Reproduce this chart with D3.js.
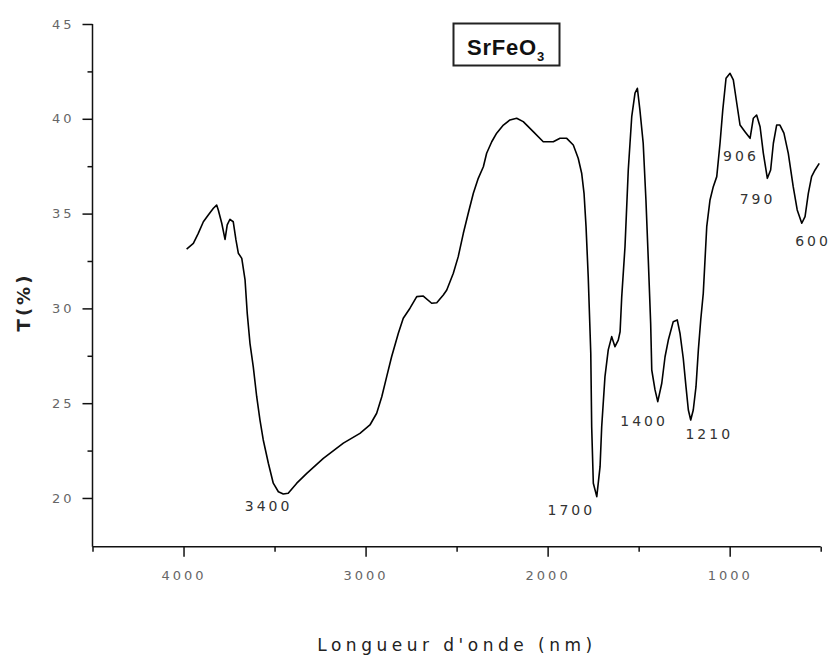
<!DOCTYPE html>
<html>
<head>
<meta charset="utf-8">
<script src="https://cdn.jsdelivr.net/npm/d3@7"></script>
<style>
  html, body { margin: 0; padding: 0; background: #fff; }
  svg { display: block; }
</style>
</head>
<body>
<svg id="chart" width="832" height="659"></svg>
<script>
// ---- Data (wavenumber cm-1, transmittance %) ----
const wavenumber = [3983,3946,3919,3891,3864,3836,3818,3809,3790,3772,3760,3745,3727,3712,3699,3680,3662,3650,3635,3617,3598,3580,3562,3534,3507,3479,3452,3425,3378,3323,3232,3122,3031,2976,2939,2911,2884,2857,2820,2793,2756,2719,2683,2637,2609,2573,2554,2518,2491,2463,2436,2408,2381,2353,2335,2307,2280,2243,2207,2170,2134,2079,2024,1969,1932,1895,1859,1832,1813,1800,1789,1777,1763,1758,1749,1730,1712,1703,1685,1667,1648,1630,1612,1602,1593,1575,1557,1538,1520,1507,1493,1475,1460,1447,1434,1428,1410,1395,1373,1355,1337,1310,1288,1273,1255,1240,1227,1214,1200,1185,1172,1159,1145,1126,1108,1090,1071,1053,1038,1020,998,980,961,943,916,888,870,852,833,815,793,775,760,742,724,702,678,651,629,604,586,568,550,531,508];
const transmittance = [33.13,33.43,33.96,34.57,34.93,35.28,35.45,35.19,34.49,33.64,34.40,34.70,34.57,33.61,32.91,32.64,31.50,29.74,28.16,26.93,25.34,24.11,23.06,21.83,20.78,20.33,20.21,20.25,20.78,21.30,22.09,22.89,23.41,23.85,24.47,25.34,26.40,27.45,28.69,29.48,30.01,30.62,30.65,30.27,30.30,30.71,30.97,31.85,32.73,33.96,35.02,36.07,36.86,37.47,38.18,38.79,39.24,39.67,39.94,40.03,39.85,39.32,38.79,38.79,38.97,38.97,38.62,37.92,37.13,36.07,34.31,31.67,27.63,23.76,20.78,20.07,21.65,23.76,26.40,27.81,28.51,27.98,28.33,28.77,30.60,33.25,37.30,40.11,41.35,41.61,40.46,38.71,35.72,32.55,29.21,26.75,25.70,25.08,26.05,27.45,28.33,29.30,29.39,28.69,27.37,25.87,24.64,24.11,24.64,25.87,27.81,29.39,30.80,34.31,35.72,36.42,36.95,38.71,40.46,42.14,42.40,42.05,40.82,39.67,39.32,38.97,40.03,40.20,39.58,38.18,36.86,37.30,38.71,39.67,39.67,39.24,38.18,36.42,35.19,34.49,34.84,36.07,36.95,37.30,37.65];

const xMajorTicks = [4000, 3000, 2000, 1000];
const xMinorTicks = [4500, 3500, 2500, 1500, 500];
const yMajorTicks = [20, 25, 30, 35, 40, 45];
const yMinorTicks = [22.5, 27.5, 32.5, 37.5, 42.5];

const peakLabels = ["3400", "1700", "1400", "1210", "906", "790", "600"];
const peakLabelW = [3533, 1870, 1470, 1112, 938, 847, 542];
const peakLabelT = [19.5, 19.3, 24.0, 23.3, 38.0, 35.7, 33.5];

const titleText = "SrFeO";
const titleSub = "3";
const xTitle = "Longueur d'onde (nm)";
const yTitle = "T(%)";

// ---- Scales ----
const svg = d3.select("#chart");
const x = d3.scaleLinear().domain([4500, 500]).range([92.5, 820.7]);
const y = d3.scaleLinear().domain([17.43, 45]).range([546.7, 24]);

const axisColor = "#111";
const tickLabelColor = "#666";

// ---- Y axis ----
const gy = svg.append("g").attr("transform", `translate(${x(4500)},0)`)
  .call(d3.axisLeft(y).tickValues(yMajorTicks).tickSize(10).tickPadding(8).tickFormat(d3.format("d")));
gy.select(".domain").remove();
gy.selectAll(".tick line").attr("stroke", axisColor).attr("stroke-width", 1.5);
gy.selectAll(".tick text").attr("fill", tickLabelColor).attr("font-family", "DejaVu Sans, sans-serif").attr("font-size", 13).attr("letter-spacing", 3);
const gyMinor = svg.append("g").attr("transform", `translate(${x(4500)},0)`)
  .call(d3.axisLeft(y).tickValues(yMinorTicks).tickSize(5).tickFormat(""));
gyMinor.select(".domain").remove();
gyMinor.selectAll(".tick line").attr("stroke", axisColor).attr("stroke-width", 1.5);

svg.append("line")
  .attr("x1", x(4500)).attr("x2", x(4500))
  .attr("y1", y(45)).attr("y2", y(17.43))
  .attr("stroke", axisColor).attr("stroke-width", 1.5);

// ---- X axis ----
const gx = svg.append("g").attr("transform", `translate(0,${y(17.43)})`)
  .call(d3.axisBottom(x).tickValues(xMajorTicks).tickSize(10).tickPadding(14).tickFormat(d3.format("d")));
gx.select(".domain").remove();
gx.selectAll(".tick line").attr("stroke", axisColor).attr("stroke-width", 1.5);
gx.selectAll(".tick text").attr("fill", tickLabelColor).attr("font-family", "DejaVu Sans, sans-serif").attr("font-size", 13).attr("letter-spacing", 3);
const gxMinor = svg.append("g").attr("transform", `translate(0,${y(17.43)})`)
  .call(d3.axisBottom(x).tickValues(xMinorTicks).tickSize(5).tickFormat(""));
gxMinor.select(".domain").remove();
gxMinor.selectAll(".tick line").attr("stroke", axisColor).attr("stroke-width", 1.5);

svg.append("line")
  .attr("x1", x(4500)).attr("x2", x(500))
  .attr("y1", y(17.43)).attr("y2", y(17.43))
  .attr("stroke", axisColor).attr("stroke-width", 1.5);

// ---- Curve ----
const pts = wavenumber.map((w, i) => [w, transmittance[i]]);
svg.append("path")
  .datum(pts)
  .attr("fill", "none")
  .attr("stroke", "#000")
  .attr("stroke-width", 1.6)
  .attr("stroke-linejoin", "round")
  .attr("d", d3.line().x(d => x(d[0])).y(d => y(d[1])));

// ---- Peak labels ----
svg.append("g").selectAll("text")
  .data(peakLabels)
  .join("text")
  .attr("x", (d, i) => x(peakLabelW[i]))
  .attr("y", (d, i) => y(peakLabelT[i]))
  .attr("text-anchor", "middle")
  .attr("dominant-baseline", "middle")
  .attr("font-family", "DejaVu Sans, sans-serif")
  .attr("font-size", 14)
  .attr("letter-spacing", 3)
  .attr("fill", "#333")
  .text(d => d);

// ---- Title box ----
const tb = svg.append("g");
tb.append("rect")
  .attr("x", 453.5).attr("y", 23.5).attr("width", 106).attr("height", 42)
  .attr("fill", "#fff").attr("stroke", "#222").attr("stroke-width", 2);
const tt = tb.append("text")
  .attr("x", 467).attr("y", 55)
  .attr("text-anchor", "start")
  .attr("font-family", "Liberation Sans, Arial, sans-serif")
  .attr("font-weight", "bold")
  .attr("font-size", 22)
  .attr("letter-spacing", 0.8)
  .attr("fill", "#111");
tt.append("tspan").text(titleText);
tt.append("tspan").attr("font-size", 13).attr("dy", 6).text(titleSub);

// ---- Axis titles ----
svg.append("text")
  .attr("x", 457).attr("y", 646)
  .attr("text-anchor", "middle")
  .attr("dominant-baseline", "middle")
  .attr("font-family", "DejaVu Sans, sans-serif")
  .attr("font-size", 17)
  .attr("letter-spacing", 4.5)
  .attr("fill", "#222")
  .text(xTitle);

svg.append("text")
  .attr("transform", "translate(25,302) rotate(-90)")
  .attr("text-anchor", "middle")
  .attr("dominant-baseline", "middle")
  .attr("font-family", "DejaVu Sans, sans-serif")
  .attr("font-size", 18)
  .attr("font-weight", "bold")
  .attr("letter-spacing", 3)
  .attr("fill", "#222")
  .text(yTitle);
</script>
</body>
</html>
